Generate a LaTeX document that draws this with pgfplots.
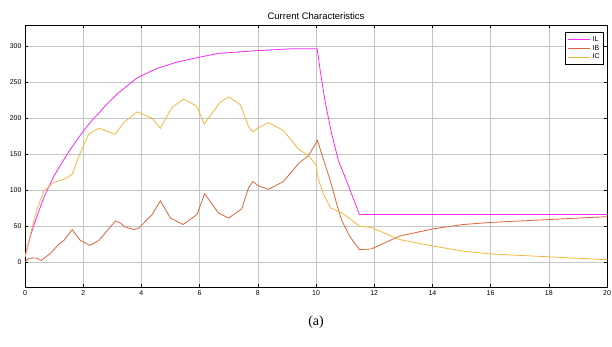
\documentclass[border=0pt]{standalone}
\usepackage{fontspec}
\setmainfont{Liberation Sans}
\newfontfamily\serifa{Liberation Serif}
\usepackage{pgfplots}
\pgfplotsset{compat=1.18}
\definecolor{cIL}{RGB}{255,40,255}
\definecolor{cIB}{RGB}{222,100,55}
\definecolor{cIC}{RGB}{240,185,60}
\begin{document}
\begin{tikzpicture}
\path[use as bounding box] (-25bp,-60bp) rectangle (587bp,287bp);
\begin{axis}[
  scale only axis, width=582bp, height=262bp,
  xmin=0, xmax=20, ymin=-35, ymax=330,
  xtick={0,2,...,20}, ytick={0,50,...,300},
  grid=major, major grid style={gray!45, line width=0.6bp},
  tick align=inside, major tick length=3bp,
  tick style={black, line width=0.5bp},
  axis line style={black, line width=0.7bp},
  ticklabel style={font=\fontsize{7}{8}\selectfont},
  /pgf/number format/assume math mode=true,
  title={Current Characteristics},
  title style={font=\fontsize{9.5}{10}\selectfont, yshift=-4bp},
  legend style={at={(rel axis cs:0.995,0.973)}, anchor=north east,
    font=\fontsize{7}{8}\selectfont, draw=black, line width=0.8bp,
    row sep=-1.5bp, inner sep=2bp},
  legend cell align=left,
  legend image code/.code={\draw[#1, line width=1.3bp] (0bp,0bp) -- (22bp,0bp);},
]
\addplot[cIL, line width=0.8bp] coordinates {
(0,7) (0.2,38) (0.4,62) (0.65,90) (1.0,120) (1.45,150) (1.75,168) (2.02,183)
(2.3,197) (2.6,210) (2.77,218) (3.2,235) (3.84,256) (4.5,269) (5.2,278)
(5.85,284) (6.66,290.5) (7.87,294) (9.2,297) (10.04,297) (10.15,265)
(10.31,224) (10.54,178) (10.77,141) (11.05,113) (11.49,66) (20,66)};
\addlegendentry{IL}
\addplot[cIB, line width=0.8bp] coordinates {
(0,0) (0.14,5) (0.37,5.5) (0.56,2) (0.88,12) (1.17,25) (1.34,30) (1.62,45)
(1.9,30) (2.23,23) (2.54,30) (3.11,57) (3.28,54) (3.42,49) (3.74,45) (3.91,47)
(4.37,66) (4.65,85) (5.0,61) (5.43,52) (5.91,66) (6.02,78) (6.17,95) (6.65,68)
(7.0,61) (7.45,74) (7.68,103) (7.83,112) (8.02,106) (8.37,101) (8.88,112)
(9.4,137) (9.74,148) (10.05,169) (10.5,112) (10.71,81) (10.88,58) (11.17,35)
(11.49,17) (11.9,18) (12.88,36) (14.02,46) (15.05,52) (16.02,55) (18.02,59)
(20,63)};
\addlegendentry{IB}
\addplot[cIC, line width=0.8bp] coordinates {
(0,7) (0.19,39) (0.4,72) (0.65,99) (1.0,111) (1.34,115) (1.62,122) (1.9,152)
(2.19,178) (2.54,186) (3.1,178) (3.39,194) (3.85,209) (4.37,200) (4.65,186)
(5.05,215) (5.45,227) (5.9,217) (6.16,192) (6.48,210) (6.7,222) (7.0,230)
(7.4,219) (7.68,189) (7.83,181) (8.02,187) (8.37,194) (8.88,183) (9.4,157)
(9.74,148) (10.0,135) (10.08,115) (10.25,95) (10.5,75) (10.94,67) (11.49,50)
(11.9,48) (12.88,31) (14.02,22) (15.05,15) (16.02,11) (18.02,7) (20,3)};
\addlegendentry{IC}
\end{axis}
\node[font=\serifa\fontsize{14}{16}\selectfont] at (291bp,-35bp) {(a)};
\end{tikzpicture}
\end{document}
